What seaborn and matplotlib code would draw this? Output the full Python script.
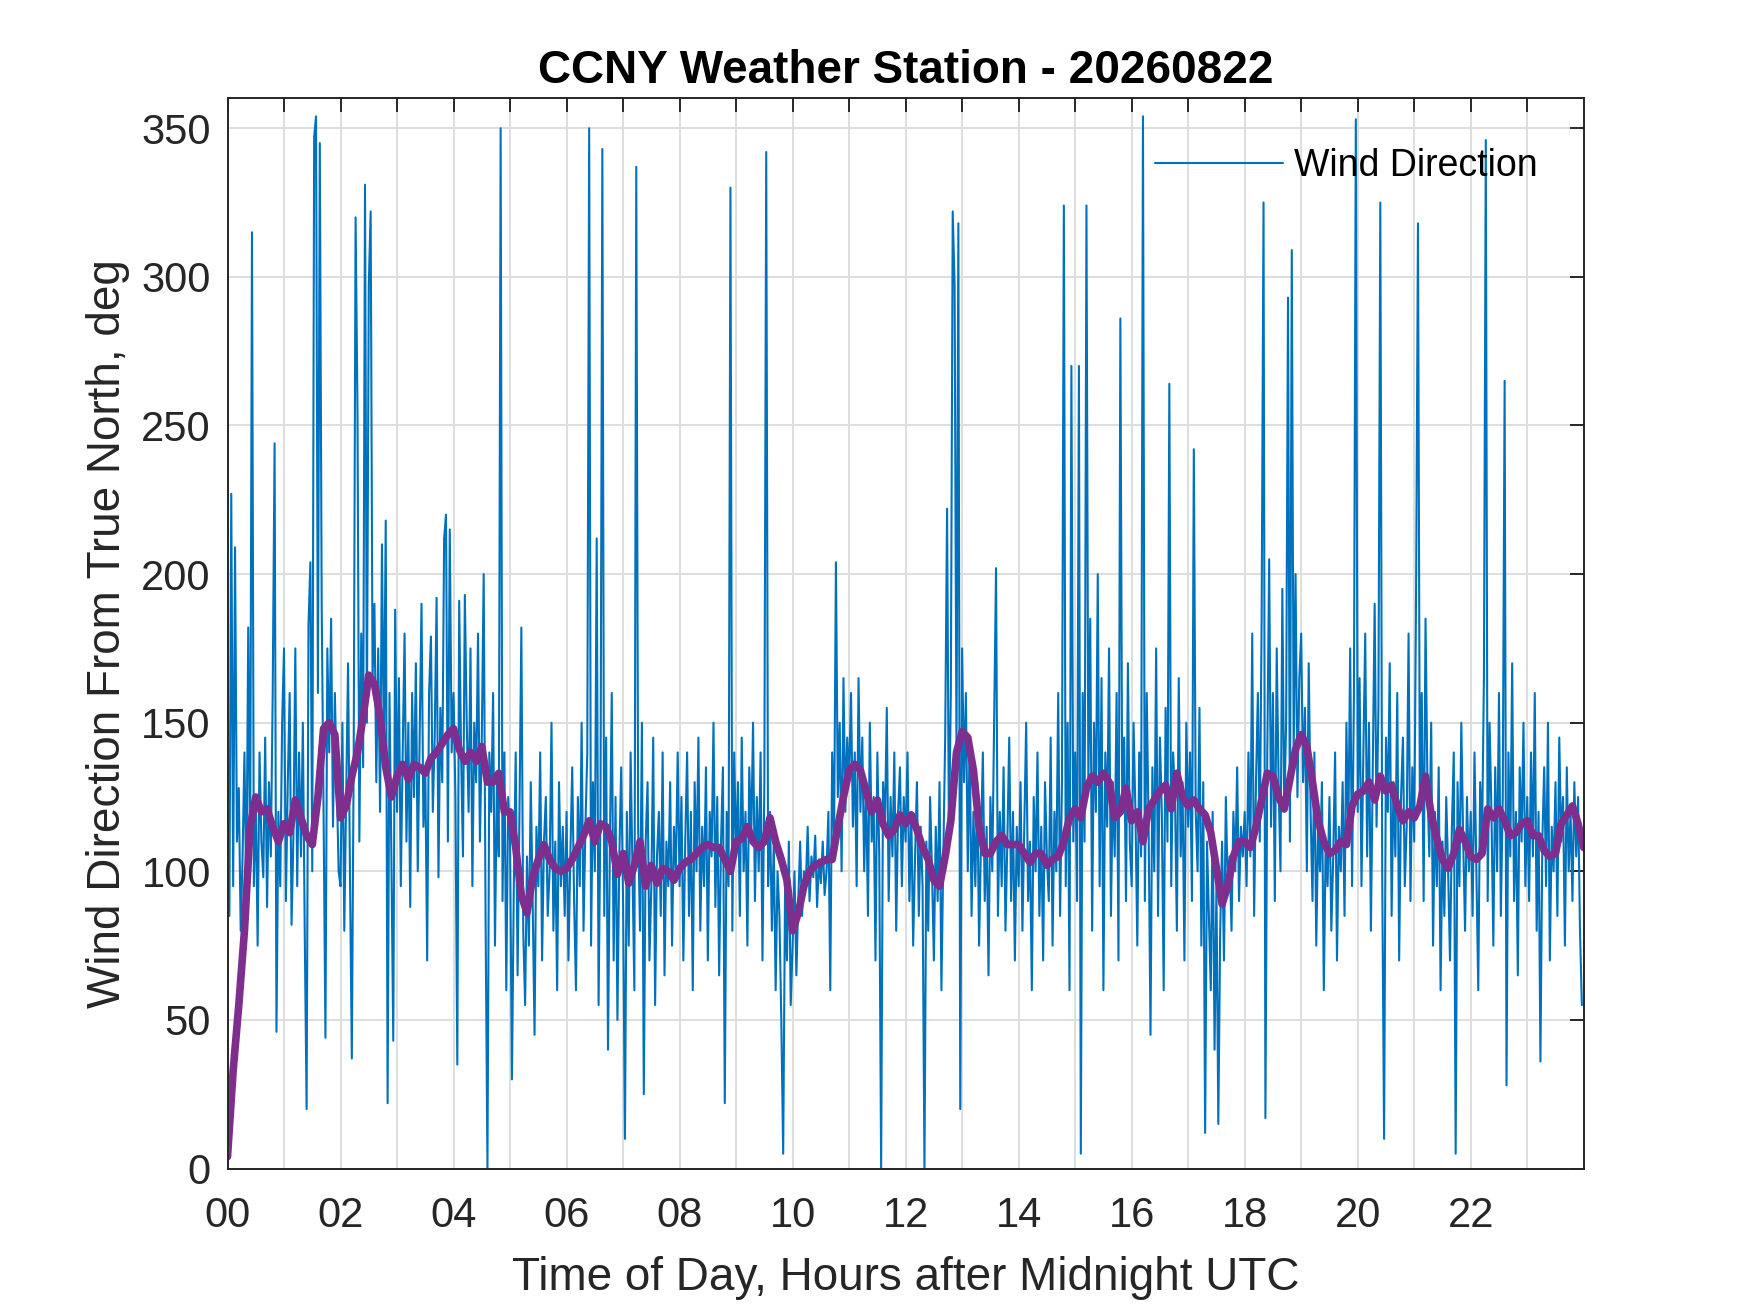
import numpy as np
import pandas as pd
import matplotlib
matplotlib.use("Agg")
import matplotlib.pyplot as plt
import seaborn as sns
from matplotlib.ticker import FixedLocator, FixedFormatter

# ---------------- data ----------------
title_text = "CCNY Weather Station - 20260822"
x_label = "Time of Day, Hours after Midnight UTC"
y_label = "Wind Direction From True North, deg"
legend_label = "Wind Direction"

sample_minutes = 2          # raw series sampled every 2 minutes
avg_minutes = 6             # smoothed series sampled every 6 minutes

wind_dir = [
    # 00 h
    120, 85, 227, 95, 209, 110, 128, 80, 105, 140, 90, 182, 100, 315, 95, 125, 75, 140, 110, 98,
    145, 88, 130, 105, 160, 244, 46, 120, 95, 150,
    # 01 h
    175, 90, 130, 160, 82, 112, 175, 95, 140, 105, 150, 80, 20, 183, 204, 100, 347, 354, 160, 345,
    190, 120, 44, 175, 140, 185, 115, 160, 130, 100,
    # 02 h
    95, 150, 80, 125, 170, 100, 37, 140, 320, 255, 110, 180, 135, 331, 150, 297, 322, 165, 190, 130,
    175, 120, 210, 140, 218, 22, 160, 105, 43, 188,
    # 03 h
    120, 165, 95, 140, 180, 110, 150, 88, 160, 125, 170, 100, 145, 190, 115, 135, 70, 160, 179, 120,
    145, 192, 98, 155, 130, 212, 220, 110, 215, 140,
    # 04 h
    160, 125, 35, 191, 140, 105, 193, 150, 120, 175, 95, 150, 130, 180, 110, 145, 200, 85, 0, 140,
    120, 160, 75, 130, 105, 350, 90, 140, 60, 125,
    # 05 h
    110, 30, 95, 140, 65, 120, 182, 80, 55, 105, 75, 130, 90, 45, 115, 95, 140, 70, 110, 125,
    85, 100, 150, 80, 110, 60, 130, 95, 115, 85,
    # 06 h
    120, 70, 105, 135, 90, 60, 125, 95, 150, 80, 115, 140, 350, 75, 130, 100, 212, 55, 120, 343,
    85, 145, 40, 110, 160, 70, 125, 50, 105, 135,
    # 07 h
    90, 10, 120, 75, 140, 100, 60, 337, 115, 80, 150, 25, 110, 130, 70, 95, 145, 55, 105, 120,
    85, 140, 65, 110, 95, 130, 75, 115, 100, 140,
    # 08 h
    95, 125, 70, 110, 140, 85, 120, 60, 130, 100, 145, 80, 115, 95, 135, 70, 120, 105, 150, 88,
    125, 65, 110, 135, 22, 120, 95, 330, 80, 140,
    # 09 h
    105, 130, 85, 145, 100, 120, 75, 135, 110, 150, 90, 125, 100, 140, 70, 130, 342, 95, 120, 80,
    110, 60, 100, 85, 50, 5, 95, 70, 110, 55,
    # 10 h
    75, 100, 65, 90, 110, 85, 100, 95, 115, 90, 105, 98, 112, 88, 104, 96, 110, 92, 100, 120,
    60, 140, 110, 204, 125, 150, 100, 165, 120, 145,
    # 11 h
    130, 160, 115, 140, 95, 165, 120, 145, 100, 130, 85, 150, 110, 125, 70, 140, 105, 0, 130, 115,
    155, 90, 125, 105, 140, 80, 120, 135, 95, 125,
    # 12 h
    110, 140, 90, 120, 75, 105, 130, 85, 115, 95, 0, 110, 80, 125, 100, 70, 115, 90, 130, 60,
    105, 145, 222, 110, 160, 322, 297, 140, 318, 20,
    # 13 h
    175, 130, 160, 100, 145, 85, 120, 95, 130, 75, 110, 140, 90, 115, 65, 125, 100, 150, 202, 85,
    120, 95, 135, 80, 110, 145, 90, 120, 70, 115,
    # 14 h
    95, 130, 80, 115, 150, 90, 110, 60, 125, 100, 140, 85, 115, 70, 130, 105, 90, 145, 75, 120,
    100, 160, 85, 130, 324, 95, 150, 60, 270, 110,
    # 15 h
    140, 90, 270, 5, 160, 110, 324, 130, 185, 80, 150, 120, 200, 95, 165, 60, 140, 115, 175, 85,
    130, 105, 160, 70, 286, 120, 145, 90, 170, 110,
    # 16 h
    95, 150, 120, 75, 140, 105, 354, 90, 160, 115, 45, 135, 100, 175, 85, 145, 120, 60, 155, 110,
    264, 95, 140, 125, 80, 165, 105, 130, 70, 150,
    # 17 h
    115, 140, 90, 242, 120, 100, 155, 75, 130, 12, 110, 85, 60, 120, 40, 95, 15, 80, 110, 70,
    125, 95, 105, 80, 120, 100, 135, 90, 115, 105,
    # 18 h
    120, 95, 140, 105, 180, 85, 130, 160, 110, 185, 325, 17, 140, 205, 115, 160, 90, 175, 130, 100,
    195, 120, 150, 293, 110, 309, 140, 200, 125, 165,
    # 19 h
    180, 130, 155, 100, 170, 120, 90, 140, 75, 115, 100, 130, 60, 110, 95, 125, 80, 105, 140, 70,
    115, 100, 130, 85, 150, 110, 175, 95, 160, 353,
    # 20 h
    120, 165, 95, 140, 180, 105, 150, 80, 135, 190, 115, 155, 325, 100, 10, 145, 120, 170, 85, 130,
    105, 160, 70, 125, 145, 95, 115, 180, 90, 135,
    # 21 h
    110, 195, 318, 120, 160, 90, 185, 130, 105, 150, 75, 120, 95, 135, 60, 110, 85, 125, 100, 70,
    115, 140, 5, 130, 95, 150, 110, 80, 125, 100,
    # 22 h
    120, 85, 140, 100, 60, 130, 110, 165, 346, 90, 150, 120, 75, 135, 100, 160, 85, 125, 265, 28,
    140, 105, 170, 90, 120, 65, 135, 110, 150, 95,
    # 23 h
    125, 90, 140, 105, 160, 80, 120, 36, 110, 135, 95, 150, 70, 115, 100, 130, 85, 145, 110, 125,
    75, 135, 100, 120, 90, 130, 105, 125, 80, 55,
]

wind_avg = [
    4, 33, 55, 80, 115, 125, 120, 121, 115, 110,
    116, 113, 124, 118, 112, 109, 125, 148, 150, 146,
    118, 122, 132, 140, 152, 166, 163, 152, 135, 125,
    132, 136, 131, 136, 135, 133, 138, 140, 143, 146,
    148, 141, 137, 140, 137, 142, 130, 130, 133, 120,
    120, 108, 92, 86, 98, 104, 109, 104, 101, 100,
    101, 104, 108, 112, 117, 110, 116, 115, 110, 99,
    106, 96, 102, 110, 95, 102, 96, 101, 100, 97,
    101, 103, 104, 106, 108, 109, 108, 108, 104, 100,
    110, 111, 115, 110, 108, 110, 118, 110, 104, 97,
    80, 86, 95, 100, 102, 103, 104, 104, 115, 125,
    134, 136, 134, 127, 120, 124, 116, 112, 114, 119,
    116, 119, 114, 108, 104, 97, 95, 105, 117, 140,
    147, 145, 134, 115, 106, 106, 110, 112, 109, 109,
    109, 106, 103, 106, 106, 102, 104, 105, 110, 118,
    121, 118, 128, 132, 130, 133, 130, 118, 120, 128,
    117, 120, 110, 121, 124, 127, 129, 121, 133, 125,
    122, 124, 121, 119, 113, 101, 89, 95, 105, 110,
    110, 108, 115, 124, 133, 132, 125, 121, 131, 141,
    146, 142, 130, 117, 110, 106, 107, 110, 109, 122,
    126, 127, 130, 124, 132, 127, 129, 122, 117, 120,
    118, 122, 132, 119, 111, 104, 101, 106, 114, 110,
    105, 104, 106, 121, 118, 121, 117, 112, 113, 116,
    117, 112, 112, 107, 105, 106, 116, 119, 122, 116,
    108,
]

x_tick_hours = list(range(0, 24))
x_tick_labels = [f"{h:02d}" if h % 2 == 0 else "" for h in x_tick_hours]
y_ticks = [0, 50, 100, 150, 200, 250, 300, 350]

# ---------------- build frames ----------------
raw = pd.DataFrame({
    "hour": np.arange(len(wind_dir)) * sample_minutes / 60.0,
    "dir": wind_dir,
})
avg = pd.DataFrame({
    "hour": np.arange(len(wind_avg)) * avg_minutes / 60.0,
    "dir": wind_avg,
})

# ---------------- style ----------------
sns.set_theme(style="white")
plt.rcParams['font.family'] = ['Liberation Sans', 'DejaVu Sans']

AX_COL = "#262626"
BLUE = "#0072BD"
PURPLE = "#7E2F8E"

fig = plt.figure(figsize=(17.5, 13.13), dpi=100)
fig.patch.set_facecolor("white")
ax = fig.add_axes([0.13, 0.11, 0.775, 0.815])

sns.lineplot(data=raw, x="hour", y="dir", ax=ax, color=BLUE, linewidth=1.5,
             estimator=None, legend=False)
sns.lineplot(data=avg, x="hour", y="dir", ax=ax, color=PURPLE, linewidth=5.5,
             estimator=None, legend=False)
blue_line = ax.lines[0]

ax.set_xlim(0, 24)
ax.set_ylim(0, 360)

ax.xaxis.set_major_locator(FixedLocator(x_tick_hours))
ax.xaxis.set_major_formatter(FixedFormatter(x_tick_labels))
ax.set_yticks(y_ticks)

ax.grid(True, color="#dedede", linewidth=1.4)
ax.set_axisbelow(True)

for sp in ax.spines.values():
    sp.set_visible(True)
    sp.set_color(AX_COL)
    sp.set_linewidth(1.4)

ax.tick_params(axis="both", which="major", direction="in", length=10,
               width=1.4, color=AX_COL, labelcolor=AX_COL, labelsize=30,
               top=True, right=True)
ax.tick_params(axis="x", pad=20)
ax.tick_params(axis="y", pad=12)

ax.set_xlabel(x_label, fontsize=33, color=AX_COL, labelpad=14)
ax.set_ylabel(y_label, fontsize=33, color=AX_COL, labelpad=8)
ax.set_title(title_text, fontsize=33, fontweight="bold", color="black", pad=11)

leg = ax.legend(handles=[blue_line], labels=[legend_label], loc="upper right",
                bbox_to_anchor=(0.966, 0.954), frameon=False, fontsize=27,
                handlelength=3.4, handletextpad=0.3, borderpad=0, borderaxespad=0)
for t in leg.get_texts():
    t.set_color("black")

fig.savefig("out.png", dpi=100, facecolor="white")
